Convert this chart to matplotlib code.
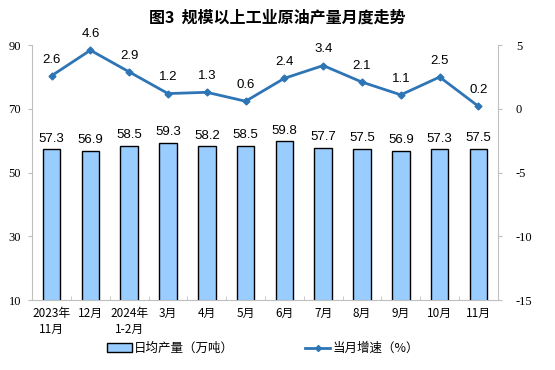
import numpy as np
import matplotlib.pyplot as plt
from matplotlib.patches import Patch
from matplotlib.lines import Line2D

plt.rcParams['font.family'] = ['Liberation Sans', 'Noto Sans CJK SC']
plt.rcParams['axes.unicode_minus'] = False

months = ['2023年\n11月', '12月', '2024年\n1-2月', '3月', '4月', '5月',
          '6月', '7月', '8月', '9月', '10月', '11月']
daily_output = [57.3, 56.9, 58.5, 59.3, 58.2, 58.5, 59.8, 57.7, 57.5, 56.9, 57.3, 57.5]
growth = [2.6, 4.6, 2.9, 1.2, 1.3, 0.6, 2.4, 3.4, 2.1, 1.1, 2.5, 0.2]

bar_color = '#99CCFF'
line_color = '#2E75B6'
spine_color = '#BFBFBF'
tick_font = ['Liberation Serif', 'Noto Sans CJK SC']
cjk_font = ['Noto Sans CJK SC', 'Liberation Sans']

fig = plt.figure(figsize=(5.55, 3.7), dpi=100)
ax = fig.add_axes([0.058, 0.189, 0.839, 0.689])
ax2 = ax.twinx()

x = np.arange(len(months))
ax.bar(x, daily_output, width=0.45, color=bar_color, edgecolor='black', linewidth=1.0, zorder=2)
for xi, v in zip(x, daily_output):
    ax.text(xi, v + 1.5, f'{v:.1f}', ha='center', va='bottom', fontsize=9.5)

ax2.plot(x, growth, color=line_color, linewidth=2, marker='D', markersize=3.5, zorder=3)
for xi, v in zip(x, growth):
    ax2.text(xi, v + 0.8, f'{v:.1f}', ha='center', va='bottom', fontsize=9.5)

ax.set_ylim(10, 90)
ax.set_yticks([10, 30, 50, 70, 90])
ax2.set_ylim(-15, 5)
ax2.set_yticks([-15, -10, -5, 0, 5])
ax.set_xlim(-0.5, len(months) - 0.5)

ax.set_xticks(x)
ax.set_xticklabels(months, fontsize=8.5, family=cjk_font, linespacing=1.3)
ax.set_xticks(np.arange(-0.5, len(months)), minor=True)
ax.tick_params(axis='x', which='major', length=0, pad=5)
ax.tick_params(axis='x', which='minor', length=3, color=spine_color, direction='in')

for a in (ax, ax2):
    a.spines['top'].set_visible(False)
    for s in ('left', 'right', 'bottom'):
        a.spines[s].set_color(spine_color)
ax.spines['right'].set_visible(False)
ax2.spines['left'].set_visible(False)
ax2.spines['bottom'].set_visible(False)

ax.tick_params(axis='y', length=3, color=spine_color, labelsize=9, pad=14)
ax2.tick_params(axis='y', length=3, color=spine_color, labelsize=9, pad=10)
for lbl in ax.get_yticklabels() + ax2.get_yticklabels():
    lbl.set_family(tick_font)
for lbl in ax.get_yticklabels():
    lbl.set_ha('left')

fig.text(0.5, 0.952, '图3  规模以上工业原油产量月度走势', ha='center', va='center',
         fontsize=11.5, fontweight='bold', family=cjk_font)

handles = [Patch(facecolor=bar_color, edgecolor='black', linewidth=1.0),
           Line2D([0], [0], color=line_color, linewidth=2, marker='D', markersize=3)]
fig.legend(handles, ['日均产量（万吨）', '当月增速（%）'], loc='center',
           bbox_to_anchor=(0.474, 0.058), ncol=2, frameon=False, columnspacing=5.7,
           handlelength=2.0, handletextpad=0.2, prop={'family': cjk_font, 'size': 9})

fig.savefig('out.png', dpi=100)
